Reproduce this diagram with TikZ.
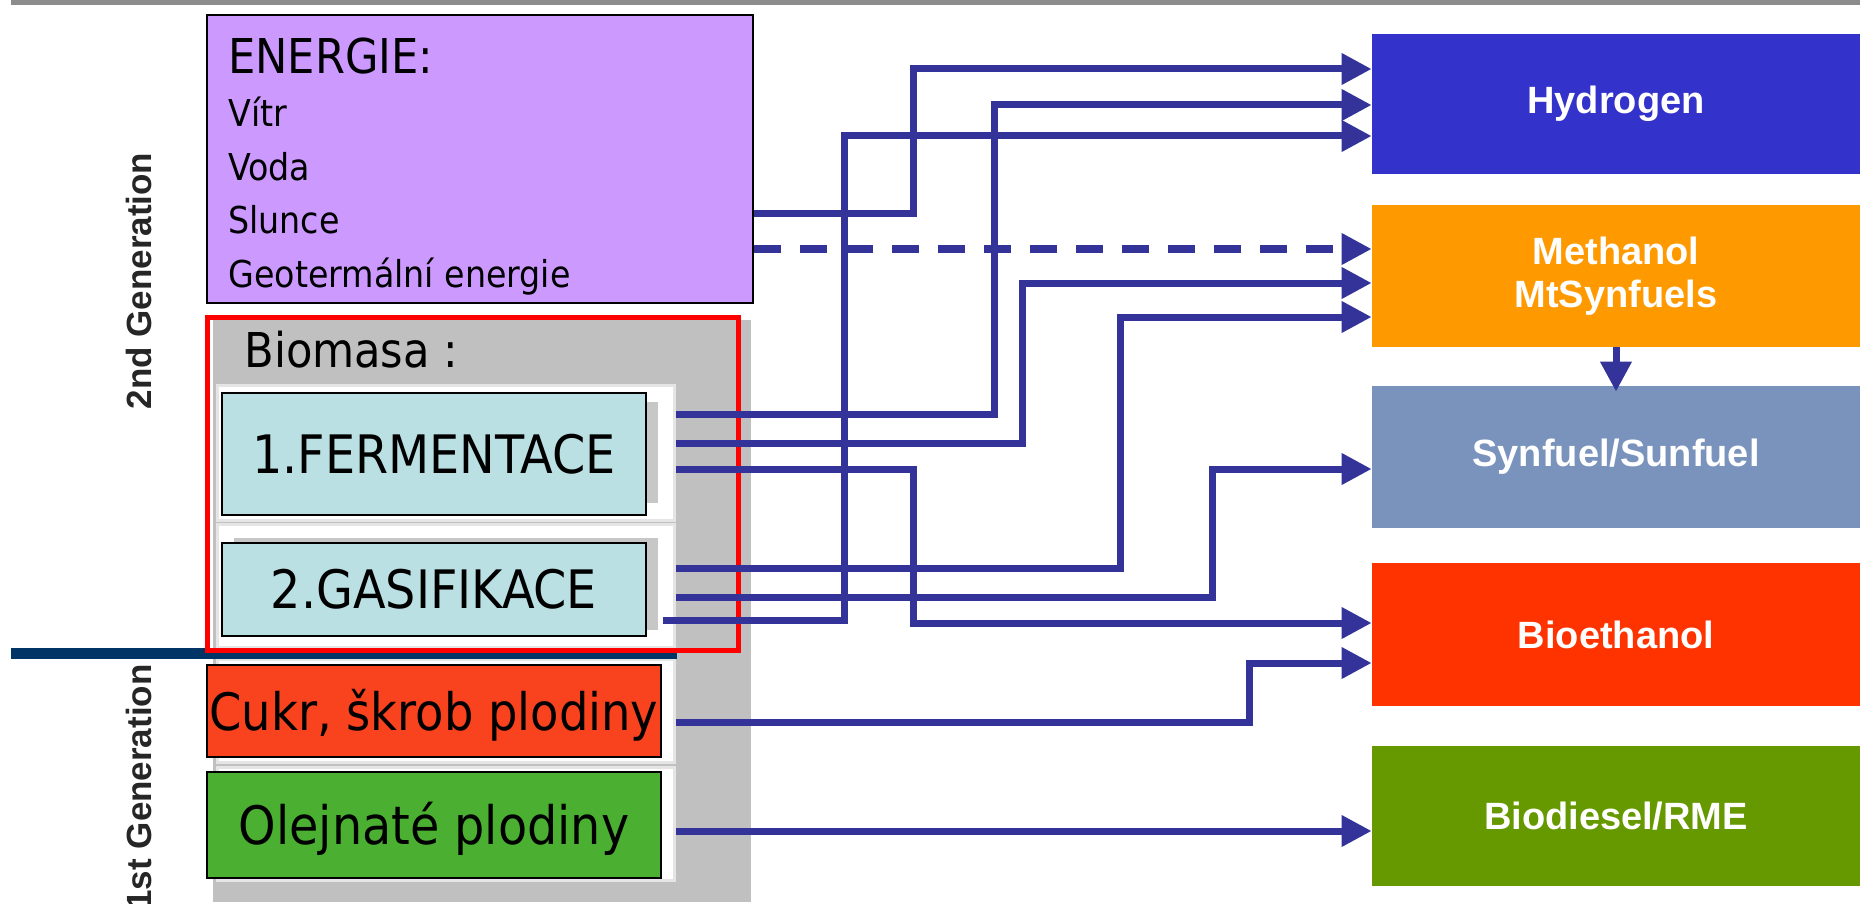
\documentclass[tikz,border=0pt]{standalone}
\usepackage{fontspec}
\setmainfont{DejaVu Sans Condensed}
\newfontfamily\labelfont{Liberation Sans}
\usetikzlibrary{arrows.meta,positioning,calc}

\definecolor{energyviolet}{HTML}{CC99FF}
\definecolor{procblue}{HTML}{BBE0E3}
\definecolor{sugarred}{HTML}{F9421E}
\definecolor{oilgreen}{HTML}{4BAF32}
\definecolor{hydroblue}{HTML}{3333CC}
\definecolor{methorange}{HTML}{FF9900}
\definecolor{synsteel}{HTML}{7A93BD}
\definecolor{ethred}{HTML}{FF3300}
\definecolor{dieselgreen}{HTML}{669900}
\definecolor{flowblue}{HTML}{333399}
\definecolor{genline}{HTML}{003366}
\definecolor{panelgray}{HTML}{C0C0C0}

\begin{document}
\begin{tikzpicture}[
  x=0.5pt, y=-0.5pt,
  src/.style={draw=black, line width=1pt, inner sep=0pt, minimum width=212pt,
    font=\fontsize{26.5}{30}\selectfont, text height=19pt, text depth=0pt},
  panel/.style={fill=white, draw=black!10, line width=1.5pt, inner sep=0pt, minimum width=228.5pt},
  shade/.style={fill=black!22},
  fuel/.style={inner sep=0pt, minimum width=244pt, align=center, text=white,
    font=\labelfont\bfseries\fontsize{19}{21.5}\selectfont},
  gen/.style={rotate=90, inner sep=0pt, text=black!85,
    font=\labelfont\bfseries\fontsize{17.5}{20}\selectfont},
  arr/.style={-{Triangle[length=15pt,width=15pt]}, line width=3.5pt, draw=flowblue}
]
\useasboundingbox (0,0) rectangle (1860,904);
\fill[black!45] (11,-10) rectangle (1860,5);

% energy sources
\node[draw=black, line width=1pt, fill=energyviolet, inner sep=0pt,
  minimum width=273pt, minimum height=144pt] (energie) at (480,159) {};
\node[anchor=base west, inner sep=0pt, align=left, font=\fontsize{18.5}{26.75}\selectfont]
  (energietext) at (228,287) {{\fontsize{24}{26.75}\selectfont ENERGIE:}\\Vítr\\Voda\\Slunce\\Geotermální energie};

% biomass panel
\node[fill=panelgray, inner sep=0pt, minimum width=269pt, minimum height=291pt] (biopanel) at (482,611) {};
\node[anchor=base west, inner sep=0pt, font=\fontsize{24}{28}\selectfont] (biomasa) at (244,367) {Biomasa :};
\node[panel, minimum height=67.5pt] (fermpanel) at (445.5,452.5) {};
\node[panel, minimum height=61.5pt] (gaspanel) at (445.5,585.5) {};
\node[panel, minimum height=51.5pt] (cukrpanel) at (445.5,710.5) {};
\node[panel, minimum height=56.5pt] (olejpanel) at (445.5,823.5) {};
\fill[shade] (234,402) rectangle (658,503);
\fill[shade] (234,538) rectangle (658,630);
\node[src, fill=procblue, minimum height=61pt] (ferm) at (434,454) {1.FERMENTACE};
\node[src, fill=procblue, minimum height=46.5pt] (gas) at (434,589.5) {2.GASIFIKACE};
\node[src, fill=sugarred, minimum width=227pt, minimum height=46pt, font=\fontsize{25.8}{30}\selectfont] (cukr) at (434,711) {Cukr, škrob plodiny};
\node[src, fill=oilgreen, minimum width=227pt, minimum height=53pt] (olej) at (434,825) {Olejnaté plodiny};
\draw[genline, line width=5.5pt] (11,653.5) -- (677,653.5);
\draw[red, line width=2.5pt] (207,317) rectangle (738,650);

% generations
\node[gen] (gen2) at (139,281) {2nd Generation};
\node[gen, anchor=east] (gen1) at (139,664) {1st Generation};

% fuels
\node[fuel, fill=hydroblue, minimum height=70pt] (hyd) at (1616,104) {Hydrogen};
\node[fuel, fill=methorange, minimum height=71pt] (meth) at (1616,276) {Methanol\\MtSynfuels};
\node[fuel, fill=synsteel, minimum height=71pt] (syn) at (1616,457) {Synfuel/Sunfuel};
\node[fuel, fill=ethred, minimum height=71.5pt] (bioeth) at (1616,634.5) {Bioethanol};
\node[fuel, fill=dieselgreen, minimum height=70pt] (diesel) at (1616,816) {Biodiesel/RME};

% flows
\draw[arr] ([yshift=-27.5pt]energie.east) -- ++(159,0) |- ([yshift=17.5pt]hyd.west);
\draw[arr, dash pattern=on 13.5pt off 9.5pt] ([yshift=-45pt]energie.east) -- ([yshift=13.5pt]meth.west);
\draw[arr] ([yshift=19.25pt]fermpanel.east) -- ++(319,0) |- ([yshift=-0.5pt]hyd.west);
\draw[arr] ([xshift=-6.5pt,yshift=-17.25pt]gaspanel.east) -- ++(182,0) |- ([yshift=-16pt]hyd.west);
\draw[arr] ([yshift=4.75pt]fermpanel.east) -- ++(347,0) |- ([yshift=-3.5pt]meth.west);
\draw[arr] ([yshift=8.75pt]gaspanel.east) -- ++(445,0) |- ([yshift=-20.5pt]meth.west);
\draw[arr] ([yshift=-5.75pt]gaspanel.east) -- ++(537,0) |- ([yshift=-6pt]syn.west);
\draw[arr] ([yshift=-8.25pt]fermpanel.east) -- ++(238,0) |- ([yshift=5.75pt]bioeth.west);
\draw[arr] ([yshift=-5.75pt]cukrpanel.east) -- ++(574,0) |- ([yshift=-14.25pt]bioeth.west);
\draw[arr] ([yshift=-3.75pt]olejpanel.east) -- ([yshift=-7.5pt]diesel.west);
\draw[arr] (meth.south) -- ([yshift=-3pt]syn.north);
\end{tikzpicture}
\end{document}
